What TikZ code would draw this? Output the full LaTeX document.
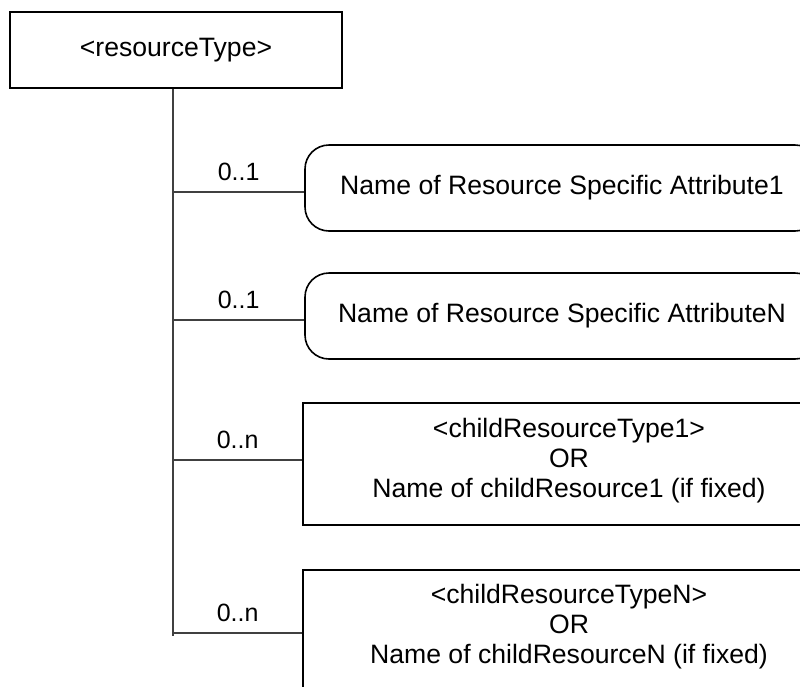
\documentclass[tikz,border=0pt]{standalone}
\usepackage{fontspec}
\setmainfont{Liberation Sans}
\begin{document}
\begin{tikzpicture}[x=1pt,y=-1pt,
  box/.style={draw=black,line width=1.6pt,inner sep=0pt,align=center,font=\fontsize{26.6}{30}\selectfont},
  rbox/.style={box,rounded corners=24pt},
  txt/.style={inner sep=0pt,align=center,font=\fontsize{26.6}{30}\selectfont},
  conn/.style={draw=black!75,line width=1.1pt},
  mult/.style={font=\fontsize{25}{30}\selectfont,inner sep=0pt,above=11pt}]
\useasboundingbox (0,0) rectangle (800,686);
\clip (0,0) rectangle (800,686);
\node[box,minimum width=332pt,minimum height=76pt] (top) at (176,50) {<resourceType>};
\node[rbox,minimum width=514pt,minimum height=86pt] (a1) at (562,188) {Name of Resource Specific Attribute1};
\node[rbox,minimum width=514pt,minimum height=86pt] (aN) at (562,316) {Name of Resource Specific AttributeN};
\node[box,minimum width=532pt,minimum height=122pt] (c1) at (569,464) {};
\node[txt] (c1t) at (569,461) {<childResourceType1>\\OR\\Name of childResource1 (if fixed)};
\node[box,minimum width=532pt,minimum height=122pt] (cN) at (569,631) {};
\node[txt] (cNt) at (569,627) {<childResourceTypeN>\\OR\\Name of childResourceN (if fixed)};
\coordinate (trunkend) at (173,636);
\draw[conn] (top.south -| trunkend) -- (trunkend);
\draw[conn] ([yshift=-4pt]a1.west -| trunkend) -- node[mult]{0..1} ([yshift=-4pt]a1.west);
\draw[conn] ([yshift=-4pt]aN.west -| trunkend) -- node[mult]{0..1} ([yshift=-4pt]aN.west);
\draw[conn] ([yshift=4pt]c1.west -| trunkend) -- node[mult]{0..n} ([yshift=4pt]c1.west);
\draw[conn] ([yshift=-2pt]cN.west -| trunkend) -- node[mult]{0..n} ([yshift=-2pt]cN.west);
\end{tikzpicture}
\end{document}
